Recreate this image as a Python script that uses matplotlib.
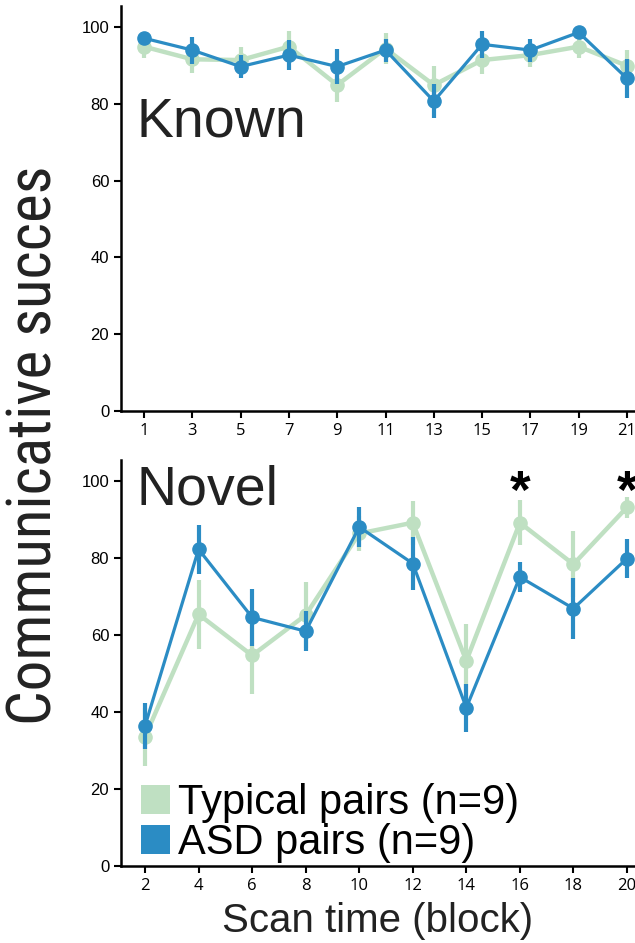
import numpy as np
import matplotlib
matplotlib.use("Agg")
import matplotlib.pyplot as plt
from matplotlib.patches import Patch

# Known words (odd blocks)
known_x = [1, 3, 5, 7, 9, 11, 13, 15, 17, 19, 21]
known_typ = [94.9, 91.6, 91.4, 94.9, 84.9, 94.4, 84.9, 91.4, 92.7, 94.9, 89.9]
known_typ_err = [3.0, 3.5, 3.5, 4.0, 4.5, 4.0, 5.0, 3.5, 3.0, 3.0, 4.0]
known_asd = [97.1, 94.0, 89.7, 92.7, 89.7, 94.0, 80.7, 95.5, 94.0, 98.6, 86.6]
known_asd_err = [1.5, 3.5, 3.0, 4.0, 4.5, 3.0, 4.5, 3.5, 3.0, 1.5, 5.0]

# Novel words (even blocks)
novel_x = [2, 4, 6, 8, 10, 12, 14, 16, 18, 20]
novel_typ = [33.6, 65.4, 54.7, 65.2, 86.4, 89.2, 53.3, 89.2, 78.4, 93.2]
novel_typ_err = [7.5, 9.0, 10.0, 8.5, 4.5, 5.7, 9.7, 5.8, 8.6, 2.8]
novel_asd = [36.4, 82.3, 64.6, 61.0, 88.1, 78.6, 41.1, 75.1, 66.9, 79.9]
novel_asd_err = [6.0, 6.3, 7.4, 5.2, 5.2, 7.0, 6.3, 4.0, 8.0, 5.0]

signif_x = [16, 20]

green = '#bfe0c2'
blue = '#2b8cc4'

fig = plt.figure(figsize=(6.35, 9.43), dpi=100)
ax1 = fig.add_axes([0.1906, 0.5642, 0.8094, 0.4295])
ax2 = fig.add_axes([0.1906, 0.0817, 0.8094, 0.4305])


def draw(ax, x, typ, typ_err, asd, asd_err):
    ax.errorbar(x, typ, yerr=typ_err, color=green, lw=3.2, elinewidth=3.0,
                marker='o', ms=9.5, capsize=0, zorder=2)
    ax.errorbar(x, asd, yerr=asd_err, color=blue, lw=2.3, elinewidth=3.0,
                marker='o', ms=9.5, capsize=0, zorder=3)
    ax.spines['top'].set_visible(False)
    ax.spines['right'].set_visible(False)
    ax.spines['left'].set_linewidth(1.8)
    ax.spines['bottom'].set_linewidth(1.8)
    ax.set_ylim(0, 105.5)
    ax.set_yticks([0, 20, 40, 60, 80, 100])
    ax.set_xticks(x)
    ax.tick_params(axis='both', width=1.5, length=5)
    for lab in ax.get_yticklabels():
        lab.set_fontfamily('Liberation Sans')
        lab.set_fontsize(12)
    for lab in ax.get_xticklabels():
        lab.set_fontfamily('Open Sans')
        lab.set_fontsize(12)


draw(ax1, known_x, known_typ, known_typ_err, known_asd, known_asd_err)
ax1.set_xlim(0.05, 21.33)
ax1.text(0.7, 71.5, 'Known', fontsize=40, family='Liberation Sans', color='#222222')

draw(ax2, novel_x, novel_typ, novel_typ_err, novel_asd, novel_asd_err)
ax2.set_xlim(1.104, 20.3)
ax2.text(1.7, 94, 'Novel', fontsize=40, family='Liberation Sans', color='#222222')
for sx in signif_x:
    ax2.text(sx, 93, '*', fontsize=38, fontweight='bold', ha='center', va='baseline',
             family='Liberation Sans')

ax2.set_xlabel('Scan time (block)', fontsize=29, family='Liberation Sans',
               color='#222222', labelpad=6)

handles = [Patch(facecolor=green, label='Typical pairs (n=9)'),
           Patch(facecolor=blue, label='ASD pairs (n=9)')]
ax2.legend(handles=handles, loc='lower left', bbox_to_anchor=(-0.035, -0.085),
           frameon=False, handlelength=0.7, handleheight=0.7, handletextpad=0.2,
           labelspacing=0.0, prop={'family': 'Liberation Sans', 'size': 30})

fig.text(0.054, 0.528, 'Communicative succes', rotation=90, ha='center', va='center',
         fontsize=44,
         family=['Roboto Condensed', 'Archivo Narrow', 'PT Sans Narrow',
                 'Liberation Sans Narrow', 'Liberation Sans'],
         color='#222222')

fig.savefig('out.png', dpi=100)
